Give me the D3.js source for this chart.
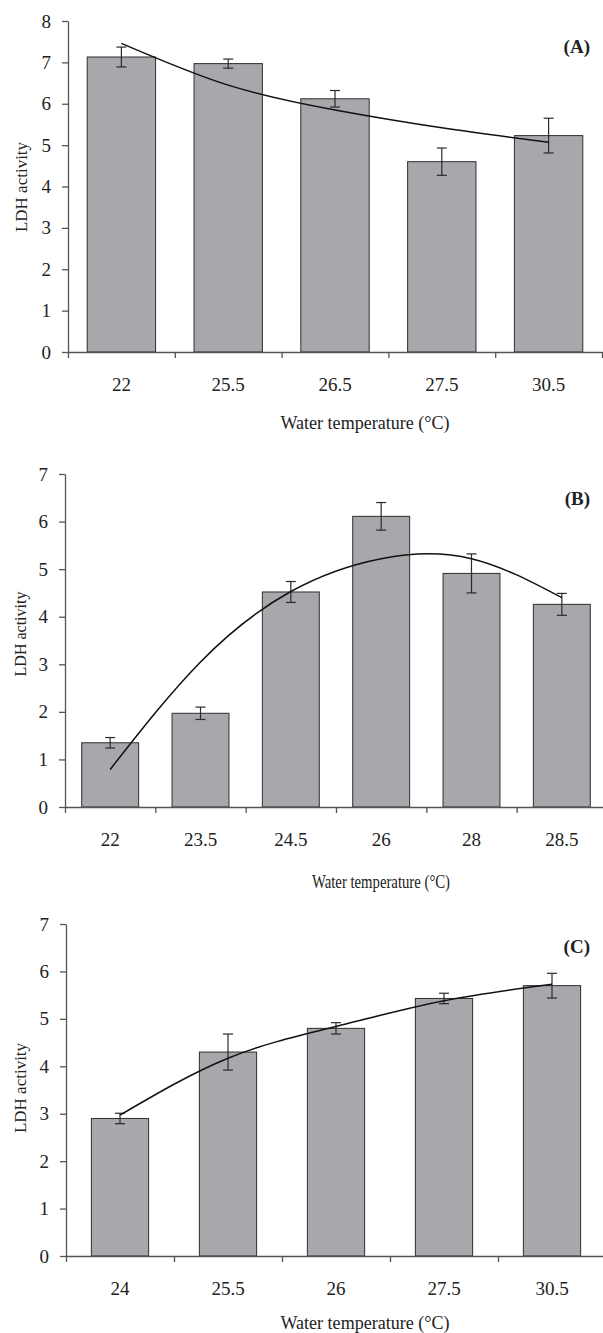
<!DOCTYPE html>
<html>
<head>
<meta charset="utf-8">
<script src="https://cdn.jsdelivr.net/npm/d3@7"></script>
<style>
  body { margin: 0; background: #fff; }
  svg text { font-family: "Liberation Serif", "DejaVu Serif", serif; fill: #222; }
</style>
</head>
<body>
<svg id="chart" width="603" height="1333"></svg>
<script>
// panel A
const catsA = ['22', '25.5', '26.5', '27.5', '30.5'];
const meanA = [7.13, 6.97, 6.12, 4.6, 5.23];
const errA = [0.24, 0.11, 0.2, 0.33, 0.42];
const trendA = [7.46, 6.45, 5.85, 5.42, 5.07];

// panel B
const catsB = ['22', '23.5', '24.5', '26', '28', '28.5'];
const meanB = [1.35, 1.97, 4.52, 6.11, 4.91, 4.26];
const errB = [0.11, 0.13, 0.22, 0.29, 0.41, 0.23];
const trendB = [0.79, 3.05, 4.53, 5.22, 5.22, 4.4];

// panel C
const catsC = ['24', '25.5', '26', '27.5', '30.5'];
const meanC = [2.9, 4.3, 4.8, 5.43, 5.7];
const errC = [0.11, 0.38, 0.12, 0.11, 0.26];
const trendC = [2.97, 4.17, 4.84, 5.38, 5.73];

const yMaxes = [8, 7, 7];
const panelLabels = ['(A)', '(B)', '(C)'];
const xTitle = 'Water temperature (°C)';
const yTitle = 'LDH activity';

// layout per panel (pixels)
const layout = [
  { left: 68, right: 602, bottom: 352, top: 21, pad: 0.36, titleX: 365, titleY: 423, titleW: 169, ylabX: 21, ylabY: 187, ylabSize: 17, tagY: 53 },
  { left: 65, right: 607, bottom: 807, top: 474, pad: 0.37, titleX: 381, titleY: 882, titleW: 138, ylabX: 20, ylabY: 634, ylabSize: 16, tagY: 505 },
  { left: 66, right: 606, bottom: 1256, top: 924, pad: 0.47, titleX: 365, titleY: 1323, titleW: 169, ylabX: 20, ylabY: 1088, ylabSize: 17, tagY: 953 }
];

const panels = [
  { cats: catsA, mean: meanA, err: errA, trend: trendA },
  { cats: catsB, mean: meanB, err: errB, trend: trendB },
  { cats: catsC, mean: meanC, err: errC, trend: trendC }
];

const svg = d3.select('#chart');
const axisColor = '#555';

panels.forEach((p, k) => {
  const L = layout[k];
  const g = svg.append('g');
  const n = p.cats.length;

  const x = d3.scaleBand()
    .domain(p.cats)
    .range([L.left, L.right])
    .paddingInner(L.pad)
    .paddingOuter(L.pad / 2);
  const xEdge = d3.scaleLinear().domain([0, n]).range([L.left, L.right]);
  const y = d3.scaleLinear().domain([0, yMaxes[k]]).range([L.bottom, L.top]);

  // bars
  g.selectAll('rect.bar')
    .data(p.mean)
    .enter()
    .append('rect')
    .attr('class', 'bar')
    .attr('x', (d, i) => x(p.cats[i]))
    .attr('width', x.bandwidth())
    .attr('y', (d) => y(d))
    .attr('height', (d) => y(0) - y(d))
    .style('fill', '#a7a8ac')
    .style('stroke', '#2e2e2e')
    .style('stroke-width', 1);

  // y axis
  const yAxis = g.append('g')
    .attr('transform', 'translate(' + L.left + ',0)')
    .call(d3.axisLeft(y).ticks(yMaxes[k]).tickSize(6).tickSizeOuter(0).tickPadding(11).tickFormat(d3.format('d')));
  yAxis.selectAll('text').style('font-size', '19px');

  // x axis: boundary ticks + category labels
  const xAxis = g.append('g')
    .attr('transform', 'translate(0,' + L.bottom + ')')
    .call(d3.axisBottom(xEdge).ticks(n).tickSize(6).tickSizeOuter(0).tickFormat(''));
  const xLab = g.append('g')
    .attr('transform', 'translate(0,' + L.bottom + ')')
    .call(d3.axisBottom(x).tickSize(0).tickPadding(26));
  xLab.select('.domain').remove();
  xLab.selectAll('text').style('font-size', '19px');

  [yAxis, xAxis].forEach((a) => {
    a.selectAll('path, line').style('stroke', axisColor).style('stroke-width', 1.3);
  });

  // error bars
  const eb = g.selectAll('g.err')
    .data(p.mean)
    .enter()
    .append('g')
    .attr('class', 'err')
    .style('stroke', '#2a2a2a')
    .style('stroke-width', 1.2);
  const cx = (i) => x(p.cats[i]) + x.bandwidth() / 2;
  eb.append('line')
    .attr('x1', (d, i) => cx(i)).attr('x2', (d, i) => cx(i))
    .attr('y1', (d, i) => y(d + p.err[i])).attr('y2', (d, i) => y(d - p.err[i]));
  eb.append('line')
    .attr('x1', (d, i) => cx(i) - 5).attr('x2', (d, i) => cx(i) + 5)
    .attr('y1', (d, i) => y(d + p.err[i])).attr('y2', (d, i) => y(d + p.err[i]));
  eb.append('line')
    .attr('x1', (d, i) => cx(i) - 5).attr('x2', (d, i) => cx(i) + 5)
    .attr('y1', (d, i) => y(d - p.err[i])).attr('y2', (d, i) => y(d - p.err[i]));

  // fitted trend line
  const line = d3.line()
    .x((d, i) => cx(i))
    .y((d) => y(d))
    .curve(d3.curveNatural);
  g.append('path')
    .datum(p.trend)
    .attr('d', line)
    .style('fill', 'none')
    .style('stroke', '#111')
    .style('stroke-width', 1.5);

  // titles
  g.append('text')
    .attr('x', L.titleX)
    .attr('y', L.titleY + 6)
    .attr('text-anchor', 'middle')
    .attr('textLength', L.titleW)
    .attr('lengthAdjust', 'spacingAndGlyphs')
    .style('font-size', '18px')
    .text(xTitle);

  g.append('text')
    .attr('transform', 'translate(' + (L.ylabX + 6) + ',' + L.ylabY + ') rotate(-90)')
    .attr('text-anchor', 'middle')
    .style('font-size', L.ylabSize + 'px')
    .text(yTitle);

  g.append('text')
    .attr('x', 590)
    .attr('y', L.tagY)
    .attr('text-anchor', 'end')
    .style('font-size', '19px')
    .style('font-weight', 'bold')
    .text(panelLabels[k]);
});
</script>
</body>
</html>
